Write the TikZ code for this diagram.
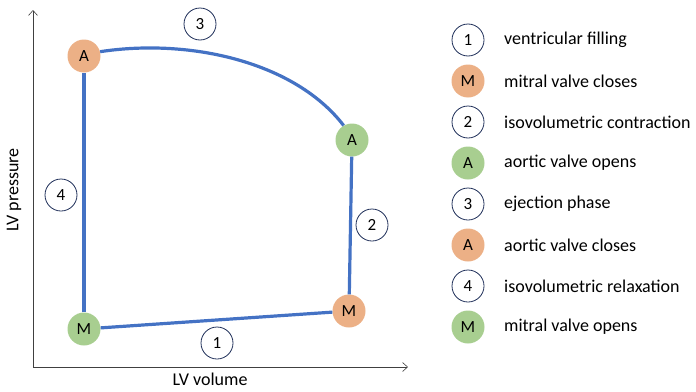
\documentclass[tikz,border=0pt]{standalone}
\usepackage{fontspec}
\setmainfont{Carlito}
\usetikzlibrary{arrows.meta}
\definecolor{orng}{RGB}{236,176,134}
\definecolor{grn}{RGB}{168,206,144}
\definecolor{lblue}{RGB}{68,114,196}
\definecolor{navy}{RGB}{32,48,90}
\begin{document}
\begin{tikzpicture}[x=1pt,y=-1pt,
  valveO/.style={circle,fill=orng,minimum size=33pt,inner sep=0pt,font=\fontsize{17}{17}\selectfont},
  valveG/.style={circle,fill=grn,minimum size=33pt,inner sep=0pt,font=\fontsize{17}{17}\selectfont},
  num/.style={circle,draw=navy,line width=0.8pt,fill=white,minimum size=32pt,inner sep=0pt,font=\fontsize{17}{17}\selectfont},
  loop/.style={draw=lblue,line width=3.2pt},
  axis/.style={draw=black!75,line width=0.6pt,-{Straight Barb[length=5pt,width=9pt]}},
  leg/.style={anchor=west,inner sep=0pt,font=\fontsize{18}{18}\selectfont}]
\useasboundingbox (0,0) rectangle (696,391);
% axes
\coordinate (O) at (33,367);
\coordinate (Ytop) at (33,10);
\coordinate (Xend) at (408,367);
\draw[axis] (O) -- (Ytop);
\draw[axis] (O) -- (Xend);
\node[font=\fontsize{18}{18}\selectfont,inner sep=0pt,anchor=base] (xl) at (210,385) {LV volume};
\node[font=\fontsize{18}{18}\selectfont,rotate=90] (yl) at (14,190) {LV pressure};
% valve nodes
\node[valveO] (ac) at (84,56) {A};
\node[valveG] (ao) at (352,140) {A};
\node[valveO] (mc) at (349,311) {M};
\node[valveG] (mo) at (84,329) {M};
% loop
\draw[loop] (ac.15) .. controls (190,38) and (295,62) .. (ao.120);
\draw[loop] (ao) -- (mc);
\draw[loop] (mc) -- (mo);
\draw[loop] (mo) -- (ac);
% phase numbers
\node[num] (n3) at (200,24) {3};
\node[num] (n4) at (61,195) {4};
\node[num] (n2) at (372,225) {2};
\node[num] (n1) at (217,343) {1};
% legend
\node[num] (l1) at (468,40) {1};
\node[leg] (t1) at (504,40) {ventricular filling};
\node[valveO] (l2) at (468,81) {M};
\node[leg] (t2) at (504,81) {mitral valve closes};
\node[num] (l3) at (468,122) {2};
\node[leg] (t3) at (504,122) {isovolumetric contraction};
\node[valveG] (l4) at (468,163) {A};
\node[leg] (t4) at (504,163) {aortic valve opens};
\node[num] (l5) at (468,204) {3};
\node[leg] (t5) at (504,204) {ejection phase};
\node[valveO] (l6) at (468,245) {A};
\node[leg] (t6) at (504,245) {aortic valve closes};
\node[num] (l7) at (468,286) {4};
\node[leg] (t7) at (504,286) {isovolumetric relaxation};
\node[valveG] (l8) at (468,327) {M};
\node[leg] (t8) at (504,327) {mitral valve opens};
\end{tikzpicture}
\end{document}
